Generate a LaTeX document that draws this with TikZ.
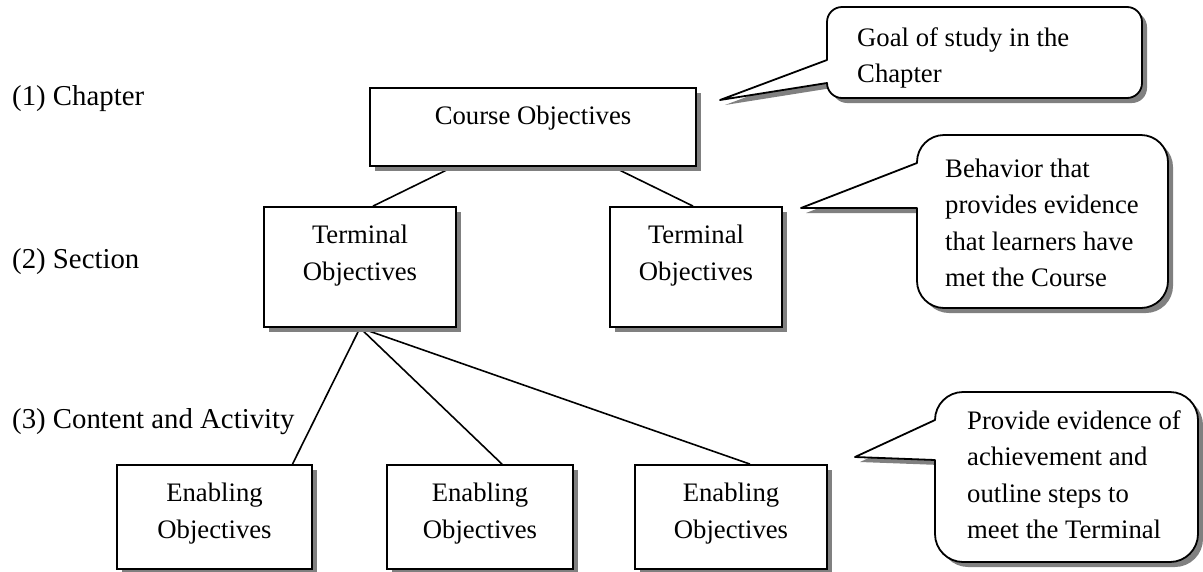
\documentclass[tikz,border=0pt]{standalone}
\usepackage{fontspec}
\setmainfont{Liberation Serif}
\usetikzlibrary{shadows}
\pgfdeclarelayer{background}
\pgfsetlayers{background,main}
\definecolor{shadowgray}{HTML}{808080}
\tikzset{
  objbox/.style={draw, line width=1.8pt, fill=white, inner sep=0pt,
    drop shadow={shadow xshift=5pt, shadow yshift=-5pt, fill=shadowgray, opacity=1}},
  link/.style={line width=1.6pt},
  lvl/.style={anchor=base west, inner sep=0pt, font=\fontsize{28.8}{34}\selectfont},
  calltext/.style={anchor=base west, inner sep=0pt, font=\fontsize{26.7}{36.5}\selectfont},
  calloutbody/.style={draw, line width=1.8pt, fill=white, line join=round},
  calloutshadow/.style={fill=shadowgray, draw=none}
}
\newcommand{\objtext}[3]{\parbox[c][#2pt][t]{#1pt}{\centering\fontsize{26.7}{37}\selectfont\rule{0pt}{36pt}#3}}
\newcommand{\calltxt}[1]{\parbox[t]{320pt}{\raggedright #1}}
\newcommand{\callpath}[9]{(#1,#6) -- (#7,#8) -- (#1,#9) -- (#1,#4-#5) .. controls (#1,#4-0.45*#5) and (#1+0.45*#5,#4) .. (#1+#5,#4) -- (#3-#5,#4) .. controls (#3-0.45*#5,#4) and (#3,#4-0.45*#5) .. (#3,#4-#5) -- (#3,#2+#5) .. controls (#3,#2+0.45*#5) and (#3-0.45*#5,#2) .. (#3-#5,#2) -- (#1+#5,#2) .. controls (#1+0.45*#5,#2) and (#1,#2+0.45*#5) .. (#1,#2+#5) -- cycle}
\begin{document}
\begin{tikzpicture}[x=1pt,y=-1pt]
\useasboundingbox (0,0) rectangle (1203,571);
% level labels
\node[lvl] (l1) at (12,105) {(1) Chapter};
\node[lvl] (l2) at (12,268) {(2) Section};
\node[lvl] (l3) at (12,428) {(3) Content and Activity};
% boxes
\node[objbox] (course) at (533,127) {\objtext{326}{78}{Course Objectives}};
\node[objbox] (term1) at (360,267) {\objtext{192}{120}{Terminal\\Objectives}};
\node[objbox] (term2) at (696,267) {\objtext{172}{120}{Terminal\\Objectives}};
\node[objbox] (en1) at (214.5,517) {\objtext{195}{104}{Enabling\\Objectives}};
\node[objbox] (en2) at (480,517) {\objtext{186}{104}{Enabling\\Objectives}};
\node[objbox] (en3) at (731,517) {\objtext{192}{104}{Enabling\\Objectives}};
% connectors
\begin{pgfonlayer}{background}
\draw[link] ([xshift=-80pt]course.south) -- ([xshift=13pt]term1.north);
\draw[link] ([xshift=80pt]course.south) -- ([xshift=-3pt]term2.north);
\draw[link] (term1.south) -- ([xshift=78pt]en1.north);
\draw[link] (term1.south) -- ([xshift=22pt]en2.north);
\draw[link] (term1.south) -- ([xshift=19pt]en3.north);
\end{pgfonlayer}
% callouts
\fill[calloutshadow, shift={(5,5)}] \callpath{827}{7}{1142}{98}{15}{60}{720}{100}{83};
\draw[calloutbody] \callpath{827}{7}{1142}{98}{15}{60}{720}{100}{83};
\fill[calloutshadow, shift={(5,5)}] \callpath{917}{135}{1168}{308}{27}{163}{801}{208}{208};
\draw[calloutbody] \callpath{917}{135}{1168}{308}{27}{163}{801}{208}{208};
\fill[calloutshadow, shift={(5,5)}] \callpath{935}{392}{1198}{562}{28}{420}{855}{457}{460};
\draw[calloutbody] \callpath{935}{392}{1198}{562}{28}{420}{855}{457}{460};
\node[calltext] (t1) at (857,46) {\calltxt{Goal of study in the\\Chapter}};
\node[calltext] (t2) at (945,177) {\calltxt{Behavior that\\provides evidence\\that learners have\\met the Course}};
\node[calltext] (t3) at (967,429) {\calltxt{Provide evidence of\\achievement and\\outline steps to\\meet the Terminal}};
\end{tikzpicture}
\end{document}
